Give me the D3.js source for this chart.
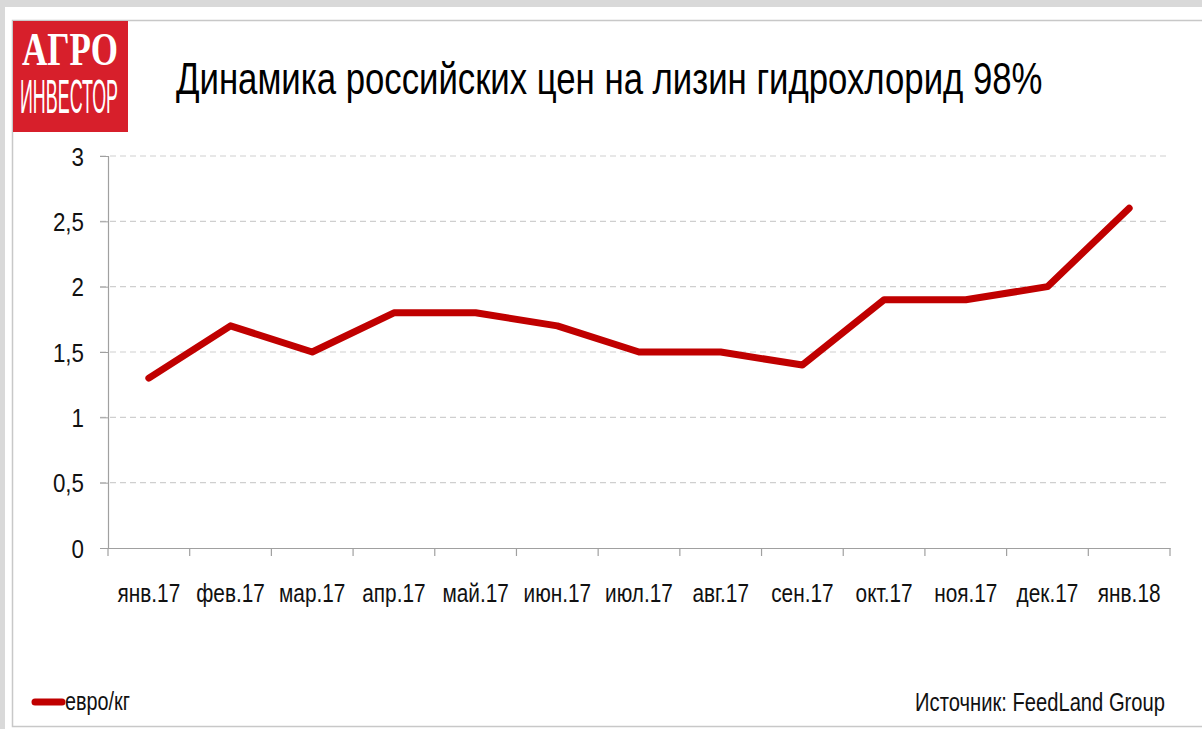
<!DOCTYPE html>
<html><head><meta charset="utf-8">
<script src="https://cdnjs.cloudflare.com/ajax/libs/d3/7.8.5/d3.min.js"></script>
<style>html,body{margin:0;padding:0;background:#d9d9d9;overflow:hidden}</style>
</head><body>
<script>
const categories = ["янв.17","фев.17","мар.17","апр.17","май.17","июн.17","июл.17","авг.17","сен.17","окт.17","ноя.17","дек.17","янв.18"];
const values = [1.3,1.7,1.5,1.8,1.8,1.7,1.5,1.5,1.4,1.9,1.9,2.0,2.6];
const yTicks = [0,0.5,1,1.5,2,2.5,3];
const yTickLabels = ["0","0,5","1","1,5","2","2,5","3"];
const title = "Динамика российских цен на лизин гидрохлорид 98%";
const seriesName = "евро/кг";
const source = "Источник: FeedLand Group";

const W = 1202, H = 729;
const svg = d3.select("body").append("svg").attr("width", W).attr("height", H);
const sans = "'Liberation Sans',Arial,sans-serif";

function ctext(str, x, y, size, opts) {
  opts = opts || {};
  const t = svg.append("text").attr("x",0).attr("y",0)
    .attr("font-family", opts.family || sans).attr("font-size", size)
    .attr("font-weight", opts.weight || "normal")
    .attr("fill", opts.fill || "#111")
    .attr("text-anchor", opts.anchor || "start").text(str);
  let s = opts.scale || 0.82;
  if (opts.width) s = opts.width / t.node().getComputedTextLength();
  const sy = opts.sy || 1;
  t.attr("transform", `translate(${x},${y}) scale(${s},${sy})`);
  return t;
}

svg.append("rect").attr("x",0).attr("y",0).attr("width",W).attr("height",H).attr("fill","#d9d9d9");
svg.append("rect").attr("x",5).attr("y",7).attr("width",W-5).attr("height",H-7).attr("fill","#fff");
svg.append("rect").attr("x",12.5).attr("y",20.5).attr("width",W).attr("height",706).attr("fill","#fff").attr("stroke","#c8c8c8").attr("stroke-width",1.5);

// logo
svg.append("rect").attr("x",13).attr("y",21).attr("width",115).attr("height",111).attr("fill","#d71f2b");
ctext("АГРО", 22, 65, 40, {family:"'Liberation Serif','Times New Roman',serif", weight:"bold", fill:"#fff", width:96, sy:1.18});
ctext("ИНВЕСТОР", 20, 113, 40, {fill:"#fff", width:98, sy:1.22});

// title
ctext(title, 176, 94, 44, {fill:"#000", width:867});

const x = d3.scaleBand().domain(categories).range([108,1170]);
const y = d3.scaleLinear().domain([0,3]).range([548,156]);

// gridlines
svg.append("g").selectAll("line").data(yTicks.filter(d=>d>0)).join("line")
  .attr("x1",100).attr("x2",1170).attr("y1",d=>y(d)).attr("y2",d=>y(d))
  .attr("stroke","#cfcfcf").attr("stroke-width",1.2).attr("stroke-dasharray","6,4");

// y axis
const yAxis = svg.append("g").attr("transform","translate(108,0)")
  .call(d3.axisLeft(y).tickValues(yTicks).tickSize(8).tickFormat(""));
yAxis.select(".domain").attr("stroke","#a0a0a0").attr("stroke-width",1.2);
yAxis.selectAll(".tick line").attr("stroke","#a0a0a0");
yTicks.forEach((v,i)=>ctext(yTickLabels[i], 84, y(v)+9.5, 26, {anchor:"end", scale:0.86}));

// x axis
const xAxis = svg.append("g").attr("transform","translate(0,548)")
  .call(d3.axisBottom(x).tickSize(0).tickFormat(""));
xAxis.select(".domain").attr("stroke","#a0a0a0").attr("stroke-width",1.2);
const bounds = categories.map(c=>x(c)).concat([1170]);
svg.append("g").selectAll("line").data(bounds).join("line")
  .attr("x1",d=>d).attr("x2",d=>d).attr("y1",548).attr("y2",556)
  .attr("stroke","#a0a0a0").attr("stroke-width",1.2);
categories.forEach(c=>ctext(c, x(c)+x.bandwidth()/2, 602, 26, {anchor:"middle", scale:0.8}));

// line
const line = d3.line().x((d,i)=>x(categories[i])+x.bandwidth()/2).y(d=>y(d));
svg.append("path").datum(values).attr("d",line).attr("fill","none")
  .attr("stroke","#c00000").attr("stroke-width",7).attr("stroke-linejoin","round").attr("stroke-linecap","round");

// legend
svg.append("line").attr("x1",35).attr("x2",62).attr("y1",702).attr("y2",702)
  .attr("stroke","#c00000").attr("stroke-width",7).attr("stroke-linecap","round");
ctext(seriesName, 65, 710, 25, {width:65});
ctext(source, 1165, 711, 26, {anchor:"end", width:250});
</script>
</body></html>
